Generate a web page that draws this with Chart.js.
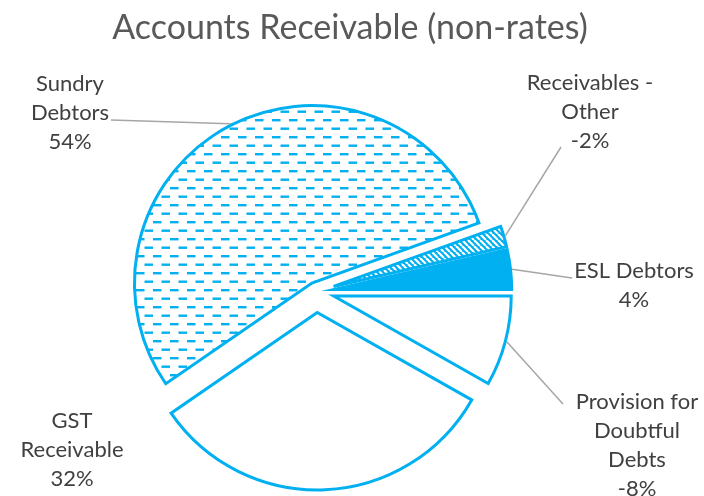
<!DOCTYPE html>
<html>
<head>
<meta charset="utf-8">
<script src="https://cdn.jsdelivr.net/npm/chart.js@4.4.0/dist/chart.umd.min.js"></script>
<style>
  html, body { margin: 0; padding: 0; background: #fff; }
</style>
</head>
<body>
<canvas id="pie" width="704" height="496"></canvas>
<script>
/* data, in the order the slices run clockwise from 3 o'clock */
const CATEGORIES = ['Provision for Doubtful Debts', 'GST Receivable', 'Sundry Debtors', 'Receivables - Other', 'ESL Debtors'];
const VALUES     = [-8.2, 32.2, 54.1, -1.9, 3.6];
const LABEL_TEXT = [
  ['Provision for', 'Doubtful', 'Debts'],
  ['GST', 'Receivable'],
  ['Sundry', 'Debtors'],
  ['Receivables -', 'Other'],
  ['ESL Debtors']
];

/* layout / style */
const BLUE      = '#00B0F0';
const EXPLODE   = [18, 21, 9.5, 18, 18];                 // px each slice is pulled out
const LABEL_POS = [[637, 402], [72, 421], [70, 84], [590, 83], [634, 271]];   // centre x, first line y
const LEADER_TO = [[563, 404], null, [111, 120], [561, 147], [572, 278]];
const LINE_H    = 29;

function makePattern (kind) {
  const c = document.createElement('canvas');
  const g = c.getContext('2d');
  if (kind === 'dash') {
    c.width = 17; c.height = 17;
    g.fillStyle = '#fff'; g.fillRect(0, 0, 17, 17);
    g.fillStyle = BLUE;
    g.fillRect(0, 0, 8.5, 2.4);
    g.fillRect(8.5, 8.5, 8.5, 2.4);
  } else {
    const s = 6;
    c.width = s; c.height = s;
    g.fillStyle = BLUE; g.fillRect(0, 0, s, s);
    g.strokeStyle = '#fff'; g.lineWidth = 2.2;
    [-s, 0, s].forEach(dx => {
      g.beginPath(); g.moveTo(dx, 0); g.lineTo(dx + s, s); g.stroke();
    });
  }
  return g.createPattern(c, 'repeat');
}

const FILLS = ['#ffffff', '#ffffff', makePattern('dash'), makePattern('diag'), BLUE];

/* pull every slice out along its own mid angle, radius stays the same */
const explodePlugin = {
  id: 'explode',
  afterUpdate (chart) {
    chart.getDatasetMeta(0).data.forEach((arc, i) => {
      const mid = (arc.startAngle + arc.endAngle) / 2;
      arc.x += Math.cos(mid) * EXPLODE[i];
      arc.y += Math.sin(mid) * EXPLODE[i];
    });
  }
};

const total = VALUES.reduce((a, v) => a + Math.abs(v), 0);

const labelPlugin = {
  id: 'sliceLabels',
  afterDraw (chart) {
    const ctx = chart.ctx;
    ctx.save();
    // title
    ctx.fillStyle = '#595959';
    ctx.font = '34px Lato';
    ctx.textAlign = 'center';
    ctx.textBaseline = 'middle';
    ctx.fillText('Accounts Receivable (non-rates)', 350, 28);

    const arcs = chart.getDatasetMeta(0).data;
    arcs.forEach((arc, i) => {
      const mid = (arc.startAngle + arc.endAngle) / 2;
      const r = arc.outerRadius + 1.5;
      if (LEADER_TO[i]) {
        ctx.strokeStyle = '#A6A6A6';
        ctx.lineWidth = 1.5;
        ctx.beginPath();
        ctx.moveTo(arc.x + Math.cos(mid) * r, arc.y + Math.sin(mid) * r);
        ctx.lineTo(LEADER_TO[i][0], LEADER_TO[i][1]);
        ctx.stroke();
      }
      const lines = LABEL_TEXT[i].concat(Math.round(VALUES[i] / total * 100) + '%');
      ctx.fillStyle = '#404040';
      ctx.font = '22px Lato';
      lines.forEach((t, k) => ctx.fillText(t, LABEL_POS[i][0], LABEL_POS[i][1] + k * LINE_H));
    });
    ctx.restore();
  }
};

new Chart(document.getElementById('pie'), {
  type: 'pie',
  data: {
    labels: CATEGORIES,
    datasets: [{
      data: VALUES.map(Math.abs),
      backgroundColor: FILLS,
      borderColor: BLUE,
      borderWidth: 3,
      borderJoinStyle: 'miter',
      hoverOffset: 0,
      radius: 177.5
    }]
  },
  options: {
    responsive: false,
    animation: false,
    rotation: 90,
    layout: { padding: { top: 87, bottom: 0, left: 0, right: 71.4 } },
    plugins: {
      legend: { display: false },
      tooltip: { enabled: false }
    },
    events: []
  },
  plugins: [explodePlugin, labelPlugin]
});
</script>
</body>
</html>
